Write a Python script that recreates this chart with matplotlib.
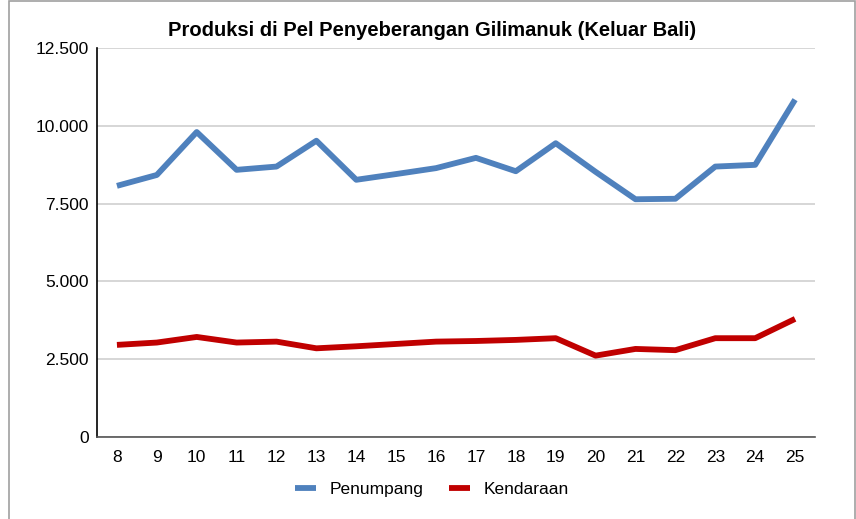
import matplotlib
matplotlib.use("Agg")
import matplotlib.pyplot as plt
from matplotlib.patches import Rectangle
from matplotlib.ticker import FuncFormatter

# data
minggu = [8, 9, 10, 11, 12, 13, 14, 15, 16, 17, 18, 19, 20, 21, 22, 23, 24, 25]
penumpang = [8070, 8420, 9800, 8585, 8690, 9520, 8265, 8450, 8640, 8970,
             8540, 9440, 8520, 7640, 7655, 8690, 8745, 10840]
kendaraan = [2960, 3035, 3215, 3035, 3065, 2850, 2915, 2990, 3065, 3085,
             3120, 3175, 2615, 2830, 2790, 3175, 3175, 3795]
y_ticks = [0, 2500, 5000, 7500, 10000, 12500]

plt.rcParams['font.family'] = ['Liberation Sans', 'DejaVu Sans']

fig = plt.figure(figsize=(8.56, 5.19), dpi=100)
ax = fig.add_axes([97/856, 1-437/519, (815-97)/856, (437-48)/519])

ax.plot(minggu, penumpang, color='#4F81BD', lw=4.2, label='Penumpang', solid_capstyle='butt')
ax.plot(minggu, kendaraan, color='#C00000', lw=4.2, label='Kendaraan', solid_capstyle='butt')

ax.set_xlim(7.5, 25.5)
ax.set_ylim(0, 12500)
ax.set_xticks(minggu)
ax.set_yticks(y_ticks)
ax.yaxis.set_major_formatter(FuncFormatter(lambda v, p: f"{int(v):,}".replace(",", ".")))
ax.tick_params(length=0, labelsize=12.5)
ax.tick_params(axis='y', pad=6)
ax.tick_params(axis='x', pad=9)
ax.grid(axis='y', color='#D0D0D0', lw=1.2)
ax.set_axisbelow(True)
for s in ['top', 'right']:
    ax.spines[s].set_visible(False)
ax.spines['left'].set_color('black')
ax.spines['left'].set_linewidth(1.2)
ax.spines['bottom'].set_color('#555555')
ax.spines['bottom'].set_linewidth(1.2)

fig.text(432/856, 1-30/519, 'Produksi di Pel Penyeberangan Gilimanuk (Keluar Bali)',
         ha='center', va='center', fontsize=14.5, fontweight='bold')

fig.legend(loc='center', bbox_to_anchor=(432/856, 1-489/519), ncol=2, frameon=False,
           fontsize=12.5, handlelength=1.2, columnspacing=1.5, handletextpad=0.8)

fig.patches.append(Rectangle((9/856, -0.01), (855-9)/856, 1-1/519+0.01,
                             transform=fig.transFigure, fill=False,
                             edgecolor='#A0A0A0', lw=1.2))

fig.savefig('out.png', dpi=100)
